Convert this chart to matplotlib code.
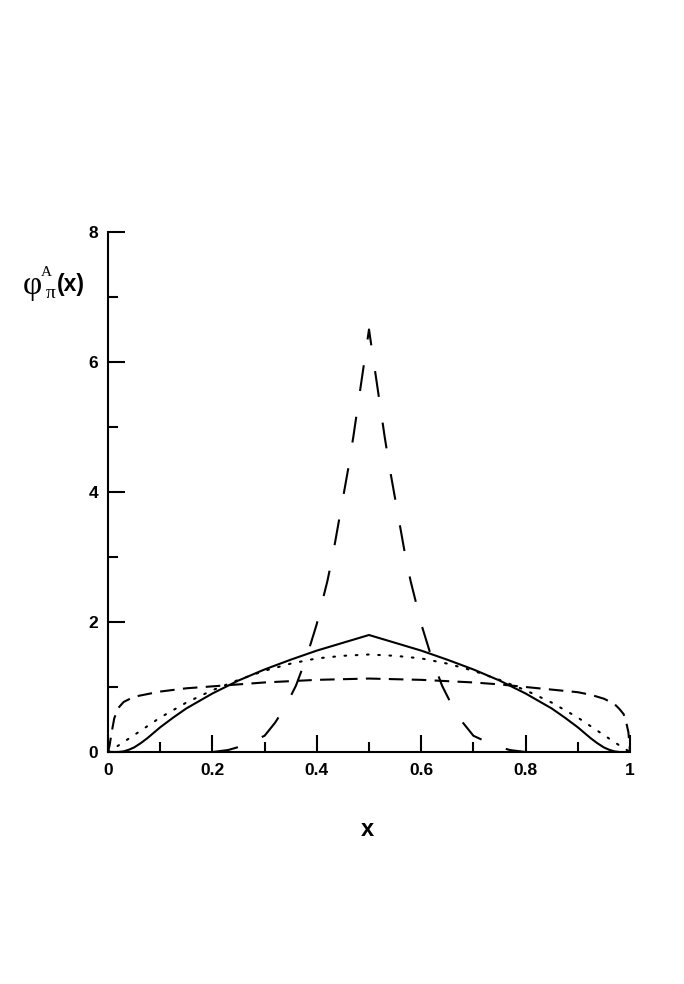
import numpy as np
import matplotlib
matplotlib.use('Agg')
import matplotlib.pyplot as plt

# curves (x from 0 to 1)
x_solid = [0.0, 0.02, 0.03, 0.04, 0.05, 0.0625, 0.075, 0.0875, 0.1, 0.125, 0.15, 0.2, 0.25, 0.3,
           0.35, 0.4, 0.45, 0.5, 0.55, 0.6, 0.65, 0.7, 0.75, 0.8, 0.85, 0.875, 0.9, 0.9125,
           0.925, 0.9375, 0.95, 0.96, 0.97, 0.98, 1.0]
y_solid = [0.0, 0.0, 0.01, 0.035, 0.07, 0.135, 0.21, 0.295, 0.38, 0.53, 0.67, 0.9, 1.1, 1.27,
           1.42, 1.56, 1.68, 1.8, 1.68, 1.56, 1.42, 1.27, 1.1, 0.9, 0.67, 0.53, 0.38, 0.295,
           0.21, 0.135, 0.07, 0.035, 0.01, 0.0, 0.0]

x_dot = [0.0, 0.02, 0.05, 0.1, 0.15, 0.2, 0.25, 0.3, 0.35, 0.4, 0.45, 0.5,
         0.55, 0.6, 0.65, 0.7, 0.75, 0.8, 0.85, 0.9, 0.95, 0.98, 1.0]
y_dot = [0.0, 0.1, 0.26, 0.53, 0.76, 0.95, 1.11, 1.25, 1.36, 1.44, 1.48, 1.5,
         1.48, 1.44, 1.36, 1.25, 1.11, 0.95, 0.76, 0.53, 0.26, 0.1, 0.0]

x_dash = [0.0, 0.003, 0.007, 0.012, 0.02, 0.03, 0.05, 0.075, 0.1, 0.15, 0.2, 0.25, 0.3, 0.35, 0.4,
          0.45, 0.5, 0.55, 0.6, 0.65, 0.7, 0.75, 0.8, 0.85, 0.9, 0.925, 0.95, 0.97, 0.98, 0.988,
          0.993, 0.997, 1.0]
y_dash = [0.0, 0.1, 0.3, 0.52, 0.68, 0.77, 0.85, 0.89, 0.93, 0.98, 1.01, 1.04, 1.07, 1.09, 1.11,
          1.12, 1.13, 1.12, 1.11, 1.09, 1.07, 1.04, 1.0, 0.96, 0.92, 0.88, 0.82, 0.74, 0.66, 0.58,
          0.45, 0.3, 0.0]

x_long = [0.2, 0.23, 0.26, 0.3, 0.32, 0.34, 0.36, 0.38, 0.4, 0.41, 0.42, 0.43, 0.44, 0.45, 0.46,
          0.47, 0.48, 0.49, 0.5, 0.51, 0.52, 0.53, 0.54, 0.55, 0.56, 0.57, 0.58, 0.59, 0.6,
          0.62, 0.64, 0.66, 0.68, 0.7, 0.74, 0.77, 0.8]
y_long = [0.0, 0.03, 0.1, 0.25, 0.45, 0.7, 1.02, 1.45, 1.97, 2.3, 2.62, 3.0, 3.45, 3.9, 4.35,
          4.85, 5.4, 5.95, 6.5, 5.95, 5.4, 4.85, 4.35, 3.9, 3.45, 3.0, 2.62, 2.3, 1.97,
          1.45, 1.02, 0.7, 0.45, 0.25, 0.1, 0.03, 0.0]

xticks = [0, 0.2, 0.4, 0.6, 0.8, 1]
xticklabels = ['0', '0.2', '0.4', '0.6', '0.8', '1']
yticks = [0, 2, 4, 6, 8]

plt.rcParams['font.family'] = ['Liberation Sans', 'DejaVu Sans']

fig = plt.figure(figsize=(6.84, 9.84), dpi=100)
ax = fig.add_axes([108/684, 1 - 752/984, 522/684, 520/984])

lw = 1.5
ax.plot(x_long, y_long, color='black', lw=lw, linestyle=(0, (12.5, 12.5)))
ax.plot(x_dash, y_dash, color='black', lw=lw, linestyle=(0, (7, 4)))
ax.plot(x_dot, y_dot, color='black', lw=lw, linestyle=(0, (0.8, 4.6)),
        dash_capstyle='round')
ax.plot(x_solid, y_solid, color='black', lw=lw)

ax.set_xlim(0, 1)
ax.set_ylim(0, 8)
ax.spines['top'].set_visible(False)
ax.spines['right'].set_visible(False)
for s in ['left', 'bottom']:
    ax.spines[s].set_linewidth(1.5)

ax.set_xticks(xticks)
ax.set_xticklabels(xticklabels)
ax.set_xticks([0.1, 0.3, 0.5, 0.7, 0.9], minor=True)
ax.set_yticks(yticks)
ax.set_yticklabels([str(v) for v in yticks])
ax.set_yticks([1, 3, 5, 7], minor=True)
ax.tick_params(which='both', direction='in', width=1.5, labelsize=12.5)
ax.tick_params(which='major', length=12.5)
ax.tick_params(which='minor', length=7)
ax.tick_params(axis='x', which='major', pad=8)
ax.tick_params(axis='y', which='major', pad=7)
for lab in ax.get_xticklabels() + ax.get_yticklabels():
    lab.set_fontweight('bold')

# y axis title, built from pieces: phi, superscript A, subscript pi, (x)
serif = ['Liberation Serif', 'DejaVu Serif']
fig.text(23/684, 1 - 286/984, '\u03c6', family=serif, fontsize=24,
         ha='left', va='center')
fig.text(41/684, 1 - 273/984, 'A', family=serif, fontsize=11,
         ha='left', va='center')
fig.text(46/684, 1 - 294/984, '\u03c0', family=serif, fontsize=14,
         ha='left', va='center')
fig.text(57/684, 1 - 285/984, '(x)', fontsize=16.5, fontweight='bold',
         ha='left', va='center')
fig.text(367/684, 1 - 830/984, 'x', fontsize=17, fontweight='bold',
         ha='center', va='center')

fig.savefig('out.png', dpi=100)
